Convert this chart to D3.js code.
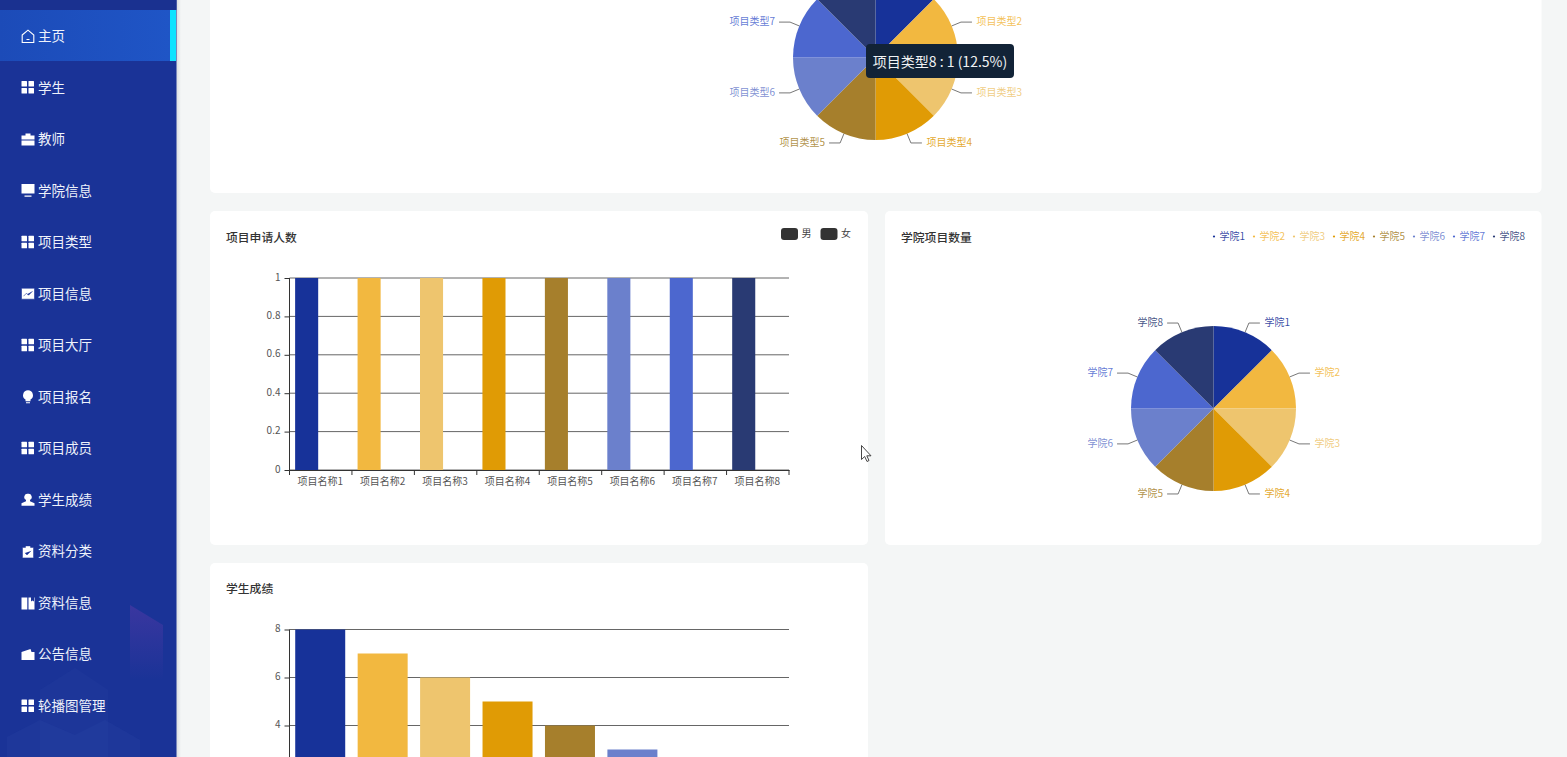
<!DOCTYPE html>
<html><head><meta charset="utf-8">
<style>html,body{margin:0;padding:0;background:#f4f6f6;overflow:hidden}svg{display:block}text{font-family:"Noto Sans CJK SC","Noto Sans",sans-serif}</style>
<script src="https://cdn.jsdelivr.net/npm/d3@7/dist/d3.min.js"></script>
</head><body><svg id="c" width="1567" height="757" viewBox="0 0 1567 757"></svg>
<script>
const menuLabels=["主页","学生","教师","学院信息","项目类型","项目信息","项目大厅","项目报名","项目成员","学生成绩","资料分类","资料信息","公告信息","轮播图管理"];
const menuIcons=["home","grid","case","screen","grid","chart","grid","bulb","grid","user","clip","book","wallet","grid"];
const palette=["#173299","#f2b840","#eec56e","#e09b05","#a67f2c","#6b80cc","#4c67cf","#293a73"];
const typeNames=["项目类型1","项目类型2","项目类型3","项目类型4","项目类型5","项目类型6","项目类型7","项目类型8"];
const typeValues=[1,1,1,1,1,1,1,1];
const collegeNames=["学院1","学院2","学院3","学院4","学院5","学院6","学院7","学院8"];
const collegeValues=[1,1,1,1,1,1,1,1];
const projectNames=["项目名称1","项目名称2","项目名称3","项目名称4","项目名称5","项目名称6","项目名称7","项目名称8"];
const maleValues=[1,1,1,1,1,1,1,1];
const femaleValues=[0,0,0,0,0,0,0,0];
const genderNames=["男","女"];
const applyTicks=[0,0.2,0.4,0.6,0.8,1];
const gradeValues=[8,7,6,5,4,3];
const gradeTicks=[8,6,4];

const svg=d3.select("#c");
const defs=svg.append("defs");
const ag=defs.append("linearGradient").attr("id","act");
ag.append("stop").attr("offset","0").attr("stop-color","#1c4bb8");
ag.append("stop").attr("offset","1").attr("stop-color","#1f55c6");
const sg=defs.append("linearGradient").attr("id","edge");
sg.append("stop").attr("offset","0").attr("stop-color","#d9dcdf");
sg.append("stop").attr("offset","1").attr("stop-color","#f4f6f6");
const dg=defs.append("linearGradient").attr("id","fade").attr("x1",0).attr("x2",0).attr("y1",0).attr("y2",1);
dg.append("stop").attr("offset","0").attr("stop-color","#5a3aa8").attr("stop-opacity",.5);
dg.append("stop").attr("offset","1").attr("stop-color","#5a3aa8").attr("stop-opacity",0);

// sidebar
const side=svg.append("g");
side.append("rect").attr("x",176).attr("y",0).attr("width",5).attr("height",757).attr("fill","url(#edge)");
side.append("rect").attr("width",176.5).attr("height",757).attr("fill","#1a3397");
side.append("rect").attr("width",176.5).attr("height",10).attr("fill","#1a3190");
const deco=[["130,605 163,625 163,680 130,680","url(#fade)",1],["40,690 75,668 108,690 108,757 40,757","#2f4aa8",.18],["7,737 40,720 75,735 75,757 7,757","#2f4aa8",.22],["75,735 105,720 140,740 140,757 75,757","#2f4aa8",.22]];
side.selectAll("polygon").data(deco).join("polygon").attr("points",d=>d[0]).attr("fill",d=>d[1]).attr("opacity",d=>d[2]);
const menuY=d3.scalePoint().domain(d3.range(menuLabels.length)).range([36,706]);
side.append("rect").attr("y",10).attr("width",170).attr("height",51).attr("fill","url(#act)");
side.append("rect").attr("x",170).attr("y",10).attr("width",6).attr("height",51).attr("fill","#0fe3ff");
const icons={
 grid:g=>{[[0,0],[7,0],[0,7],[7,7]].forEach(p=>g.append("rect").attr("x",p[0]).attr("y",p[1]).attr("width",5.5).attr("height",5.5).attr("rx",.5).attr("fill","#fff"))},
 home:g=>g.append("path").attr("d","M0.7 5.5L6.5 0.7L12.3 5.5V13H0.7Z M5 10H8").attr("fill","none").attr("stroke","#fff").attr("stroke-width",1.1),
 case:g=>g.append("path").attr("d","M4 3V1H9V3H13V7H0V3Z M0 8H13V13H0Z").attr("fill","#fff"),
 screen:g=>g.append("path").attr("d","M0 0H13V9.5H0Z M3 11.5H10V12.6H3Z").attr("fill","#fff"),
 chart:g=>g.append("path").attr("d","M0 1H13V12H0Z M2 9L5 6L7 8L11 4").attr("fill","#fff").attr("stroke","#1a3397").attr("stroke-width",.6),
 bulb:g=>g.append("path").attr("d","M6.5 0A5 5 0 0 1 9 9.3V11H4V9.3A5 5 0 0 1 6.5 0Z M4.5 12H8.5V13H4.5Z").attr("fill","#fff"),
 user:g=>g.append("path").attr("d","M6.5 0.5A3.2 3.2 0 0 1 8.5 6.5V8L13 10V12.5H0V10L4.5 8V6.5A3.2 3.2 0 0 1 6.5 0.5Z").attr("fill","#fff"),
 clip:g=>g.append("path").attr("d","M4 1H9V2.5H12V13H1V2.5H4Z M3.5 8L5.5 10L9.5 6").attr("fill","#fff").attr("stroke","#1a3397").attr("stroke-width",.5),
 book:g=>g.append("path").attr("d","M0 1H5.8V13H0Z M7 1H9.5V5L11 4L12.5 5V1H13V13H7Z").attr("fill","#fff"),
 wallet:g=>g.append("path").attr("d","M0 4L9 1L10 4H13V12H0Z").attr("fill","#fff")
};
menuLabels.forEach((t,i)=>{
 const y=menuY(i);
 const g=side.append("g").attr("transform",`translate(21.5,${y-6.5})`);
 icons[menuIcons[i]](g);
 side.append("text").attr("x",38).attr("y",y-1).attr("dominant-baseline","central").attr("font-size",13.5).attr("fill","#eef2fb").text(t);
});

// cards
const cards=[[210,-20,1331.5,213],[210,211,658,334],[885,211,656.5,334],[210,563,658,214]];
svg.append("g").selectAll("rect").data(cards).join("rect").attr("x",d=>d[0]).attr("y",d=>d[1]).attr("width",d=>d[2]).attr("height",d=>d[3]).attr("rx",5).attr("fill","#fff");

function title(x,y,t){svg.append("text").attr("x",x).attr("y",y).attr("dominant-baseline","central").attr("font-size",11.8).attr("font-weight",500).attr("fill","#333").text(t)}
title(226,236,"项目申请人数");title(901,236,"学院项目数量");title(226,587,"学生成绩");

// pies
function pie(cx,cy,names,values){
 const r=82.5;
 const g=svg.append("g").attr("transform",`translate(${cx},${cy})`);
 const arcs=d3.pie().sort(null)(values);
 const arc=d3.arc().innerRadius(0).outerRadius(r);
 g.selectAll("path").data(arcs).join("path").attr("d",arc).attr("fill",(d,i)=>palette[i]);
 arcs.forEach((a,i)=>{
  const m=(a.startAngle+a.endAngle)/2,s=Math.sin(m),c=-Math.cos(m),right=s>0;
  const x1=r*s,y1=r*c,x2=(r+10)*s,y2=(r+10)*c,x3=x2+(right?11:-11);
  if(cy+y2<0)return;
  g.append("path").attr("d",d3.line()([[x1,y1],[x2,y2],[x3,y2]])).attr("fill","none").attr("stroke","#777").attr("stroke-width",1);
  g.append("text").attr("x",x3+(right?4.5:-4)).attr("y",y2-1.5).attr("dominant-baseline","central").attr("text-anchor",right?"start":"end").attr("font-size",10).attr("fill",palette[i]).attr("fill-opacity",.88).text(names[i]);
 });
}
pie(875.5,57.5,typeNames,typeValues);
pie(1213.5,408.5,collegeNames,collegeValues);

// college legend
const lg=d3.scalePoint().domain(collegeNames).range([1214,1494]);
collegeNames.forEach((n,i)=>{
 svg.append("circle").attr("cx",lg(n)).attr("cy",236.5).attr("r",1.1).attr("fill",palette[i]);
 svg.append("text").attr("x",lg(n)+5.5).attr("y",235).attr("dominant-baseline","central").attr("font-size",10).attr("fill",palette[i]).attr("fill-opacity",.88).text(n);
});
// gender legend
const gl=d3.scalePoint().domain(genderNames).range([781,820.5]);
genderNames.forEach(n=>{
 svg.append("rect").attr("x",gl(n)).attr("y",228).attr("width",17).attr("height",12).attr("rx",3).attr("fill","#333");
 svg.append("text").attr("x",gl(n)+20.5).attr("y",232).attr("dominant-baseline","central").attr("font-size",10).attr("fill","#444").text(n);
});

// axes
function axes(x,y,ticks,top,bottom){
 const left=x.range()[0],right=x.range()[1];
 const g=svg.append("g");
 g.append("g").selectAll("line").data(ticks).join("line").attr("x1",left).attr("x2",right).attr("y1",d=>y(d)).attr("y2",d=>y(d)).attr("stroke","#666").attr("stroke-width",1);
 const ya=d3.axisLeft(y).tickValues(ticks).tickSize(5).tickPadding(4).tickFormat(d3.format("~g"));
 const ag=g.append("g").attr("transform",`translate(${left},0)`).call(ya);
 ag.select(".domain").remove();
 ag.selectAll("line").attr("stroke","#333");
 ag.selectAll("text").attr("font-size",10).attr("fill","#555").attr("font-family",'"Noto Sans CJK SC"').attr("dy","0.2em");
 g.append("line").attr("x1",left).attr("x2",left).attr("y1",top).attr("y2",bottom).attr("stroke","#333");
 return g;
}
const x1=d3.scaleBand().domain(projectNames).range([289.5,789]);
const y1=d3.scaleLinear().domain([0,1]).range([470,278]);
const g1=axes(x1,y1,applyTicks,278,470);
const sub=d3.scaleBand().domain(genderNames).range([0,x1.bandwidth()]).paddingInner(.18).paddingOuter(.2);
[maleValues,femaleValues].forEach((vals,k)=>{
 svg.append("g").selectAll("rect").data(vals).join("rect")
  .attr("x",(d,i)=>x1(projectNames[i])+sub(genderNames[k])).attr("width",sub.bandwidth())
  .attr("y",d=>y1(d)).attr("height",d=>y1(0)-y1(d)).attr("fill",(d,i)=>palette[i]);
});
const xa=d3.axisBottom(x1).tickSize(0).tickPadding(8);
const xg=svg.append("g").attr("transform","translate(0,470)").call(xa);
xg.select(".domain").attr("stroke","#333");
xg.selectAll("text").attr("font-size",10).attr("fill","#555").attr("font-family",'"Noto Sans CJK SC"').attr("x",-.5);
xg.append("g").selectAll("line").data(projectNames.map(n=>x1(n)).concat(x1.range()[1])).join("line").attr("x1",d=>d).attr("x2",d=>d).attr("y1",0).attr("y2",5).attr("stroke","#333");

const x2=d3.scaleBand().domain(projectNames).range([289.5,789]);
const y2=d3.scaleLinear().domain([0,8]).range([821.5,629.5]);
axes(x2,y2,gradeTicks,629.5,757);
const barW=50;
svg.append("g").selectAll("rect").data(gradeValues).join("rect")
 .attr("x",(d,i)=>x2(projectNames[i])+(x2.bandwidth()-barW)/2-.5).attr("width",barW)
 .attr("y",d=>y2(d)).attr("height",d=>y2(0)-y2(d)).attr("fill",(d,i)=>palette[i]);

// tooltip
const tip=svg.append("g");
tip.append("rect").attr("x",866).attr("y",44).attr("width",148).attr("height",34).attr("rx",4).attr("fill","#122337");
tip.append("text").attr("x",940).attr("y",60.5).attr("text-anchor","middle").attr("dominant-baseline","central").attr("font-size",14).attr("fill","#f0f2f4").text(`${typeNames[7]} : ${typeValues[7]} (12.5%)`);

// mouse cursor
svg.append("path").attr("transform","translate(861.5,445.5)").attr("d","M0 0V14L3.2 11L5.5 16L7.5 15L5.3 10.3H9.5Z").attr("fill","#fff").attr("stroke","#333").attr("stroke-width",.9);
</script></body></html>
